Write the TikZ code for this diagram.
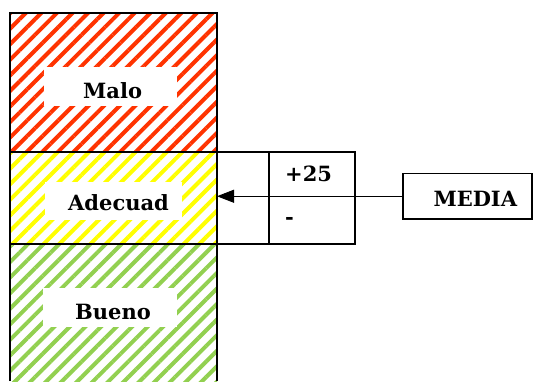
\documentclass[tikz,border=0pt]{standalone}
\usepackage{fontspec}
\setmainfont{DejaVu Serif}
\usetikzlibrary{patterns.meta,arrows.meta}
\definecolor{hred}{HTML}{FF3300}
\definecolor{hyellow}{HTML}{FFFF00}
\definecolor{hgreen}{HTML}{92D050}
\begin{document}
\begin{tikzpicture}[x=1pt,y=-1pt,
  hatch/.style={pattern={Lines[angle=45,distance=11pt,line width=4pt]}},
  bord/.style={line width=1.6pt},
  zone/.style={minimum width=207pt, inner sep=0pt, outer sep=0pt},
  cell/.style={draw, bord, inner sep=0pt, outer sep=0pt},
  whitebox/.style={fill=white, inner sep=0pt, outer sep=0pt},
  lbl/.style={font=\bfseries\fontsize{21}{25}\selectfont, anchor=base west, inner sep=0pt}]
\useasboundingbox (0,0) rectangle (533,381);
% zones
\node[zone, hatch, pattern color=hred, minimum height=139pt] (malo) at (113.5,82.5) {};
\node[zone, hatch, pattern color=hyellow, minimum height=92pt] (adecuado) at (113.5,198) {};
\node[zone, hatch, pattern color=hgreen, minimum height=137pt] (bueno) at (113.5,312.5) {};
% white label boxes
\node[whitebox, minimum width=133pt, minimum height=39pt] (malobg) at (110.5,86.5) {};
\node[whitebox, minimum width=137pt, minimum height=38pt] (adebg) at (113.5,201) {};
\node[whitebox, minimum width=134pt, minimum height=39pt] (buebg) at (110,307.5) {};
% zone borders
\draw[bord] (malo.south west) rectangle (malo.north east);
\draw[bord] (adecuado.south west) rectangle (adecuado.north east);
\draw[bord] (bueno.south west) -- (bueno.north west) -- (bueno.north east) -- (bueno.south east);
% table
\node[cell, minimum width=52pt, minimum height=92pt] (tleft) at (243,198) {};
\node[cell, minimum width=86pt, minimum height=92pt] (tright) at (312,198) {};
% media box
\node[cell, minimum width=129pt, minimum height=45.5pt] (media) at (467.5,196.25) {};
% labels
\node[lbl] (malotxt) at (83,98.3) {Malo};
\node[lbl] (adetxt) at (68,210) {Adecuad};
\node[lbl] (buetxt) at (75,319) {Bueno};
\node[lbl] (plus) at (285,181.7) {+25};
\node[lbl] (minus) at (285,224) {-};
\node[lbl] (mediatxt) at (433.3,206.7) {MEDIA};
% arrow
\draw[line width=0.9pt, -{Triangle[length=17pt,width=13pt]}] (media.west) -- (media.west -| adecuado.east);
\end{tikzpicture}
\end{document}
